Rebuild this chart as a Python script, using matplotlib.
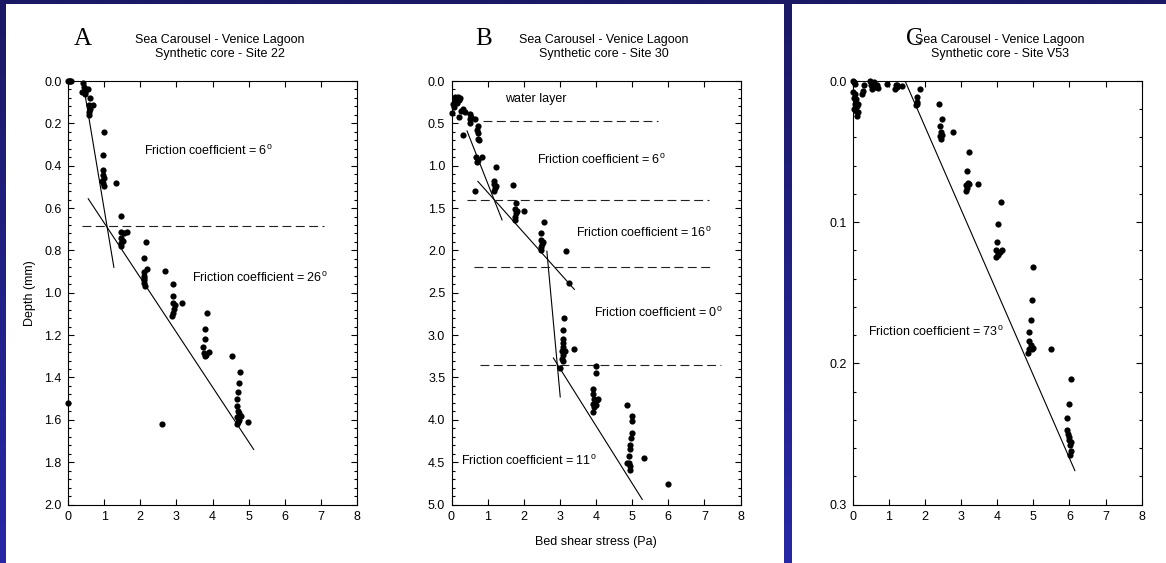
import numpy as np
import matplotlib
matplotlib.use("Agg")
import matplotlib.pyplot as plt
from matplotlib.colors import LinearSegmentedColormap
from matplotlib.patches import Rectangle
from matplotlib.ticker import MultipleLocator, NullLocator, FormatStrFormatter

plt.rcParams["font.family"] = ["Liberation Sans", "DejaVu Sans"]
plt.rcParams["mathtext.fontset"] = "custom"
plt.rcParams["mathtext.rm"] = "Liberation Sans"
plt.rcParams["mathtext.it"] = "Liberation Sans"

# --- Site 22 -------------------------------------------------------------
a_stress = [0.0, 0.03, 0.06, 0.08, 0.0,
            0.42, 0.44, 0.40, 0.46, 0.55, 0.48, 0.60,
            0.58, 0.70, 0.60, 0.58, 0.57, 0.62,
            1.00, 0.98, 0.97, 0.97, 0.99, 0.95, 0.97, 1.00, 1.34,
            1.48, 1.48, 1.55, 1.62, 1.46, 1.48, 1.46, 1.51,
            2.15, 2.11, 2.18, 2.11, 2.09, 2.11, 2.09, 2.12, 2.10,
            2.69, 2.92, 2.90, 2.92, 2.94, 2.90, 2.87, 2.97, 3.15,
            3.85, 3.80, 3.78, 3.75, 3.77, 3.79, 3.89, 3.82,
            4.54, 4.77, 4.74, 4.71, 4.69, 4.68, 4.70, 4.67, 4.73, 4.68, 4.71, 4.79, 4.74,
            4.99, 2.61]
a_depth = [0.0, 0.0, 0.0, 0.0, 1.52,
           0.01, 0.03, 0.05, 0.05, 0.04, 0.06, 0.08,
           0.114, 0.114, 0.13, 0.148, 0.16, 0.12,
           0.24, 0.35, 0.42, 0.445, 0.457, 0.47, 0.483, 0.496, 0.483,
           0.636, 0.714, 0.717, 0.714, 0.743, 0.765, 0.78, 0.754,
           0.76, 0.836, 0.89, 0.90, 0.92, 0.94, 0.955, 0.97, 0.93,
           0.895, 0.96, 1.015, 1.05, 1.075, 1.095, 1.11, 1.06, 1.048,
           1.094, 1.172, 1.22, 1.257, 1.286, 1.30, 1.28, 1.295,
           1.30, 1.375, 1.427, 1.468, 1.502, 1.535, 1.56, 1.585, 1.60, 1.62, 1.61, 1.58, 1.57,
           1.609, 1.618]
a_fits = [((0.42, 1.27), (0.012, 0.88)),
          ((0.56, 5.14), (0.556, 1.74))]
a_breaks = [(0.686, 0.40, 7.09)]
a_notes = [(2.11, 0.33, "6"), (3.43, 0.93, "26")]
a_labels = []

# --- Site 30 -------------------------------------------------------------
b_stress = [0.02, 0.05, 0.11, 0.17, 0.23, 0.11, 0.16, 0.06, 0.20,
            0.20, 0.25, 0.32, 0.36, 0.32, 0.51, 0.52, 0.50, 0.55, 0.66,
            0.73, 0.71, 0.73, 0.73, 0.75, 0.69, 0.71, 0.85, 0.73, 0.65,
            1.22, 1.19, 1.19, 1.20, 1.19, 1.22, 1.70,
            1.79, 1.77, 1.79, 1.77, 1.77, 1.81, 2.02,
            2.55, 2.48, 2.48, 2.50, 2.47, 2.48, 2.53, 3.17, 3.25,
            3.12, 3.08, 3.08, 3.08, 3.10, 3.05, 3.15, 3.10, 3.39, 3.08, 3.06, 3.01,
            4.00, 4.00, 3.93, 3.93, 3.94, 3.91, 3.94, 3.93, 4.02, 4.06, 3.99,
            4.86, 5.01, 5.01, 4.99, 4.97, 4.95, 4.94, 4.92, 4.90, 4.86, 4.94, 4.94,
            5.32, 5.98]
b_depth = [0.374, 0.27, 0.19, 0.19, 0.20, 0.24, 0.26, 0.31, 0.23,
           0.43, 0.35, 0.33, 0.37, 0.64, 0.39, 0.45, 0.50, 0.43, 0.45,
           0.53, 0.58, 0.61, 0.69, 0.70, 0.90, 0.96, 0.90, 0.93, 1.30,
           1.015, 1.18, 1.22, 1.26, 1.30, 1.24, 1.23,
           1.44, 1.51, 1.56, 1.60, 1.64, 1.54, 1.54,
           1.665, 1.80, 1.88, 1.92, 1.96, 2.00, 1.90, 2.01, 2.38,
           2.80, 2.94, 3.05, 3.09, 3.14, 3.19, 3.19, 3.23, 3.17, 3.30, 3.28, 3.39,
           3.37, 3.45, 3.64, 3.70, 3.75, 3.81, 3.85, 3.91, 3.77, 3.75, 3.83,
           3.83, 3.95, 4.02, 4.15, 4.21, 4.30, 4.34, 4.43, 4.51, 4.51, 4.55, 4.59,
           4.45, 4.76]
b_fits = [((0.43, 1.40), (0.59, 1.64)),
          ((0.73, 3.40), (1.185, 2.46)),
          ((2.64, 3.01), (2.01, 3.73)),
          ((2.82, 5.28), (3.27, 4.94))]
b_breaks = [(0.47, 0.87, 5.72), (1.40, 0.43, 7.13),
            (2.20, 0.62, 7.28), (3.35, 0.80, 7.45)]
b_notes = [(2.36, 0.93, "6"), (3.44, 1.79, "16"),
           (3.95, 2.74, "0"), (0.25, 4.49, "11")]
b_labels = [(1.47, 0.21, "water layer")]

# --- Site V53 ------------------------------------------------------------
c_stress = [0.0, 0.04, 0.06, 0.0, 0.06, 0.04, 0.09, 0.06, 0.11, 0.04, 0.16, 0.13, 0.09, 0.16,
            0.30, 0.28, 0.25, 0.48, 0.50, 0.53, 0.59, 0.66, 0.69, 0.62,
            0.96, 1.19, 1.17, 1.22, 1.24, 1.36,
            1.85, 1.77, 1.79, 1.75, 1.77,
            2.38, 2.46, 2.42, 2.44, 2.42, 2.46, 2.45, 2.79,
            3.23, 3.17, 3.20, 3.15, 3.14, 3.17, 3.21, 3.48,
            4.10, 4.02, 3.99, 3.97, 4.01, 4.09, 4.13, 4.03, 3.97,
            5.00, 4.95, 4.93, 4.88, 4.89, 4.93, 5.00, 4.89, 4.86, 4.95, 5.48,
            6.03, 5.98, 5.92, 5.94, 5.97, 6.00, 6.02, 6.04, 6.02, 5.98, 6.05]
c_depth = [0.0, 0.001, 0.002, 0.008, 0.009, 0.012, 0.013, 0.016, 0.018, 0.020, 0.022, 0.025, 0.021, 0.016,
           0.003, 0.007, 0.009, 0.0, 0.0025, 0.006, 0.001, 0.003, 0.005, 0.004,
           0.002, 0.0025, 0.006, 0.004, 0.003, 0.0035,
           0.006, 0.011, 0.015, 0.017, 0.016,
           0.016, 0.027, 0.032, 0.036, 0.039, 0.038, 0.041, 0.036,
           0.050, 0.064, 0.072, 0.074, 0.078, 0.076, 0.073, 0.073,
           0.086, 0.101, 0.114, 0.120, 0.123, 0.121, 0.120, 0.122, 0.125,
           0.1315, 0.155, 0.169, 0.178, 0.184, 0.187, 0.189, 0.190, 0.193, 0.190, 0.190,
           0.211, 0.229, 0.239, 0.247, 0.250, 0.254, 0.258, 0.262, 0.265, 0.252, 0.256]
c_fits = [((1.45, 6.15), (0.0, 0.276))]
c_breaks = []
c_notes = [(0.43, 0.178, "73")]
c_labels = []

panels = [
    dict(key="A", site="22", stress=a_stress, depth=a_depth, fits=a_fits,
         breaks=a_breaks, notes=a_notes, labels=a_labels,
         ymax=2.0, major=0.2, minor=0.04,
         left=68, letter_x=74, title_x=220),
    dict(key="B", site="30", stress=b_stress, depth=b_depth, fits=b_fits,
         breaks=b_breaks, notes=b_notes, labels=b_labels,
         ymax=5.0, major=0.5, minor=0.1,
         left=451.5, letter_x=475, title_x=604),
    dict(key="C", site="V53", stress=c_stress, depth=c_depth, fits=c_fits,
         breaks=c_breaks, notes=c_notes, labels=c_labels,
         ymax=0.3, major=0.1, minor=0.02,
         left=852.7, letter_x=906, title_x=1000),
]

W, H = 1166, 563
fig = plt.figure(figsize=(W / 100, H / 100), dpi=100)

# slide background: blue gradient with two white boards
bg = fig.add_axes([0, 0, 1, 1], zorder=-10)
grad = np.linspace(0, 1, 256).reshape(-1, 1)
cmap = LinearSegmentedColormap.from_list("slide", ["#1b1964", "#2828a6"])
bg.imshow(grad, cmap=cmap, aspect="auto", extent=[0, W, H, 0])
bg.add_patch(Rectangle((6, 4), 778, H, color="white", lw=0))
bg.add_patch(Rectangle((792, 4), W - 792, H, color="white", lw=0))
bg.set_xlim(0, W)
bg.set_ylim(H, 0)
bg.axis("off")

ax_bottom, ax_top = 504.5, 81
for p in panels:
    ax = fig.add_axes([p["left"] / W, 1 - ax_bottom / H, 289 / W, (ax_bottom - ax_top) / H])
    ax.scatter(p["stress"], p["depth"], s=20, c="black", lw=0, clip_on=False, zorder=3)
    for xs, ys in p["fits"]:
        ax.plot(xs, ys, color="black", lw=0.8)
    for y, x0, x1 in p["breaks"]:
        ax.plot([x0, x1], [y, y], color="#222222", lw=0.8, ls=(0, (8, 4)))
    for x, y, ang in p["notes"]:
        ax.text(x, y, r"Friction coefficient = %s$^{\rm o}$" % ang,
                fontsize=9, va="center", ha="left")
    for x, y, s in p["labels"]:
        ax.text(x, y, s, fontsize=9, va="center", ha="left")

    ax.set_xlim(0, 8)
    ax.set_ylim(p["ymax"], 0)
    ax.set_xticks(range(9))
    ax.xaxis.set_minor_locator(NullLocator())
    ax.yaxis.set_major_locator(MultipleLocator(p["major"]))
    ax.yaxis.set_minor_locator(MultipleLocator(p["minor"]))
    ax.yaxis.set_major_formatter(FormatStrFormatter("%.1f"))
    ax.tick_params(which="both", direction="in", top=True, right=True,
                   labelsize=9, width=0.8)
    ax.tick_params(which="major", length=4)
    ax.tick_params(which="minor", length=2)
    ax.tick_params(axis="x", pad=5)
    ax.tick_params(axis="y", pad=4.5)
    for sp in ax.spines.values():
        sp.set_linewidth(0.8)

    fig.text(p["title_x"] / W, 1 - 40 / H, "Sea Carousel - Venice Lagoon",
             ha="center", va="center", fontsize=9)
    fig.text(p["title_x"] / W, 1 - 54 / H, "Synthetic core - Site %s" % p["site"],
             ha="center", va="center", fontsize=9)
    fig.text(p["letter_x"] / W, 1 - 45 / H, p["key"], ha="left", va="baseline",
             fontsize=18, family=["Liberation Serif", "DejaVu Serif"])

    if p["key"] == "A":
        ax.set_ylabel("Depth (mm)", fontsize=9)
        ax.yaxis.set_label_coords(-0.11, 0.5)
    if p["key"] == "B":
        ax.set_xlabel("Bed shear stress (Pa)", fontsize=9)
        ax.xaxis.set_label_coords(0.5, -0.075)

fig.savefig("out.png", dpi=100)
